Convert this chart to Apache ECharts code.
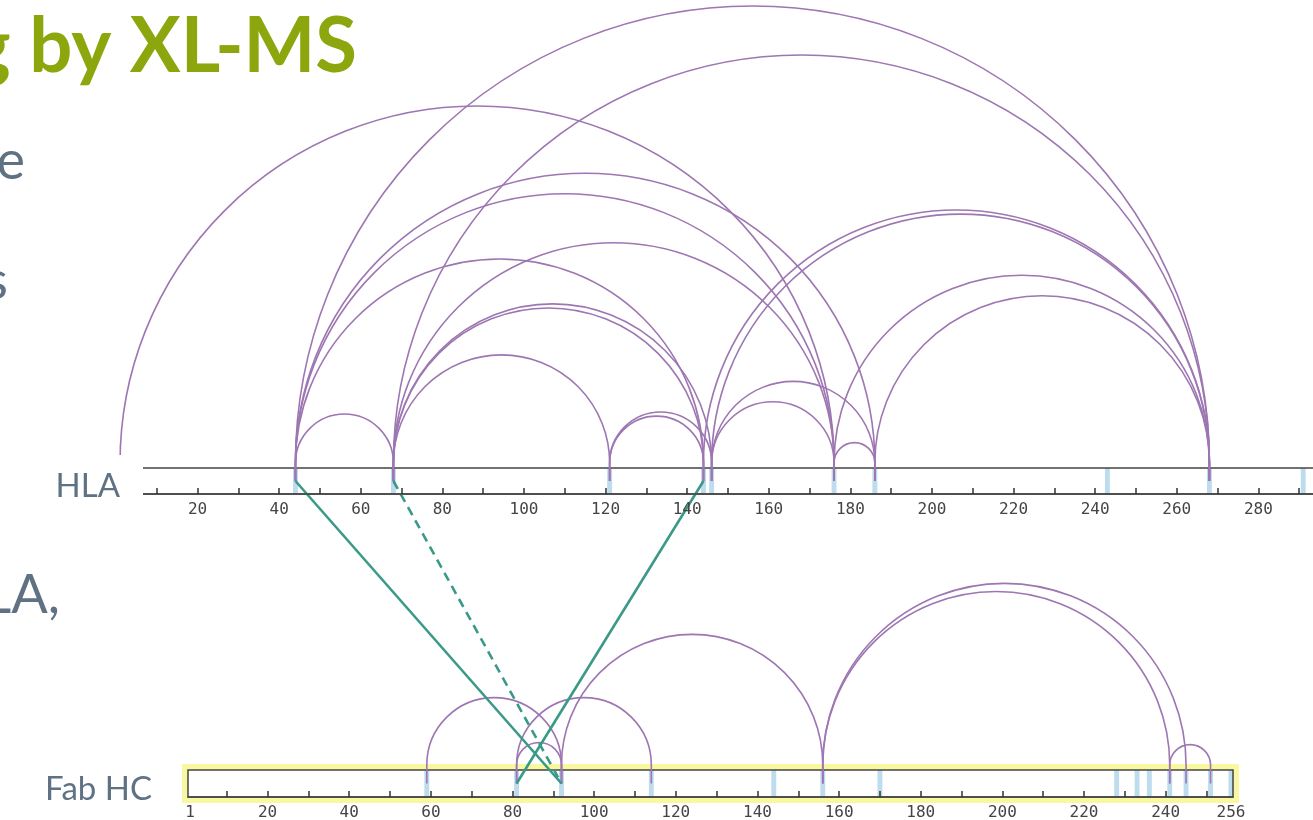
<!DOCTYPE html>
<html>
<head>
<meta charset="utf-8">
<script src="https://cdn.jsdelivr.net/npm/echarts@6/dist/echarts.min.js"></script>
<style>
html, body { margin: 0; padding: 0; background: #fff; }
#main { width: 1313px; height: 820px; }
</style>
</head>
<body>
<div id="main"></div>
<script>
// protein lengths (residues)
var hlaLength = 300;
var fabLength = 256;

// crosslinked residues (light blue marks)
var hlaSites = [44, 68, 121, 144, 146, 176, 186, 243, 268, 291];
var fabSites = [59, 81, 92, 114, 144, 156, 170, 228, 233, 236, 241, 245, 251, 256];

// intra-protein links [from, to]
var hlaLinks = [
  [1, 176], [44, 68], [44, 144], [44, 176], [44, 186], [44, 268],
  [68, 121], [68, 144], [68, 146], [68, 176], [68, 268],
  [121, 144], [121, 146], [146, 176], [146, 186], [144, 268], [146, 268],
  [176, 186], [176, 268], [186, 268]
];
var fabLinks = [[59, 92], [81, 92], [81, 114], [92, 156], [156, 241], [156, 245], [241, 251]];

// inter-protein links [HLA residue, Fab HC residue, dashed 0/1]
var interLinks = [[44, 92, 0], [68, 92, 1], [144, 81, 0]];

// axis ticks and labels
var hlaTicks = [10, 20, 30, 40, 50, 60, 70, 80, 90, 100, 110, 120, 130, 140, 150, 160, 170, 180, 190, 200, 210, 220, 230, 240, 250, 260, 270, 280, 290, 300];
var hlaLabels = [20, 40, 60, 80, 100, 120, 140, 160, 180, 200, 220, 240, 260, 280, 300];
var fabTicks = [10, 20, 30, 40, 50, 60, 70, 80, 90, 100, 110, 120, 130, 140, 150, 160, 170, 180, 190, 200, 210, 220, 230, 240, 250];
var fabLabels = [1, 20, 40, 60, 80, 100, 120, 140, 160, 180, 200, 220, 240, 256];

var arcColor = '#9d76b2';
var linkColor = '#3a9987';
var siteColor = '#bddcee';
var barColor = '#444';

var chart = echarts.init(document.getElementById('main'));

function axisX(grid, len, ticks, labels) {
  return {
    type: 'value',
    gridIndex: grid,
    min: 0.5,
    max: len + 0.5,
    z: 10,
    splitLine: { show: false },
    axisLine: { show: true, onZero: false, lineStyle: { color: barColor, width: 1.5 } },
    axisTick: { show: true, inside: true, length: 6, customValues: ticks, lineStyle: { color: '#333', width: 1.5 } },
    axisLabel: {
      customValues: labels,
      margin: 8,
      color: '#444',
      fontFamily: 'DejaVu Sans Mono',
      fontSize: 16
    }
  };
}

function axisY(grid) {
  return { type: 'value', gridIndex: grid, min: 0, max: 1, show: false };
}

function renderBar(params, api) {
  var p0 = api.coord([api.value(0), 1]);
  var p1 = api.coord([api.value(1), 0]);
  var w = p1[0] - p0[0], h = p1[1] - p0[1];
  var kids = [];
  if (api.value(2)) {
    kids.push({ type: 'rect', shape: { x: p0[0] - 6, y: p0[1] - 6, width: w + 12, height: h + 12 }, style: { fill: '#f9f7a0' } });
    kids.push({ type: 'rect', shape: { x: p0[0], y: p0[1], width: w, height: h }, style: { fill: '#fff' } });
  }
  return { type: 'group', children: kids };
}

function renderOutline(params, api) {
  var p0 = api.coord([api.value(0), 1]);
  var p1 = api.coord([api.value(1), 0]);
  return {
    type: 'rect',
    shape: { x: p0[0], y: p0[1], width: p1[0] - p0[0], height: p1[1] - p0[1] },
    style: { fill: 'none', stroke: barColor, lineWidth: 1.5 }
  };
}

function renderSite(params, api) {
  var p0 = api.coord([api.value(0) - 0.6, 1]);
  var p1 = api.coord([api.value(0) + 0.6, 0]);
  return {
    type: 'rect',
    shape: { x: p0[0], y: p0[1], width: p1[0] - p0[0], height: p1[1] - p0[1] },
    style: { fill: siteColor }
  };
}

function renderArc(params, api) {
  var a = api.coord([api.value(0), 0.5]);
  var b = api.coord([api.value(1), 0.5]);
  var top = api.coord([api.value(0), 1])[1];
  var cy = top - 5;
  var r = (b[0] - a[0]) / 2;
  var d = 'M' + a[0] + ' ' + a[1] + ' L' + a[0] + ' ' + cy +
    ' A' + r + ' ' + r + ' 0 0 1 ' + b[0] + ' ' + cy + ' L' + b[0] + ' ' + b[1];
  return {
    type: 'path',
    shape: { pathData: d },
    style: { fill: 'none', stroke: arcColor, lineWidth: 1.6 }
  };
}

function renderCross(params, api) {
  var a = api.coord([api.value(0), 0.5]);
  var b = chart.convertToPixel({ gridIndex: 1 }, [api.value(1), 0.5]);
  return {
    type: 'line',
    shape: { x1: a[0], y1: a[1], x2: b[0], y2: b[1] },
    style: { stroke: linkColor, lineWidth: 2.6, lineDash: api.value(2) ? [9, 6] : null }
  };
}

function seriesOf(grid, name, render, data, z) {
  return {
    type: 'custom', name: name, xAxisIndex: grid, yAxisIndex: grid,
    renderItem: render, data: data, z: z, silent: true, animation: false
  };
}

var bodyFont = 'Lato';
var bodyColor = '#5f7284';

var option = {
  backgroundColor: '#fff',
  animation: false,
  grid: [
    { left: 118, width: 1224, top: 468, height: 26, outerBoundsMode: 'none', containLabel: false },
    { left: 188, width: 1045, top: 770, height: 27, outerBoundsMode: 'none', containLabel: false }
  ],
  xAxis: [axisX(0, hlaLength, hlaTicks, hlaLabels), axisX(1, fabLength, fabTicks, fabLabels)],
  yAxis: [axisY(0), axisY(1)],
  series: [
    seriesOf(0, 'HLA bar', renderBar, [[0.5, hlaLength + 0.5, 0]], 1),
    seriesOf(1, 'Fab bar', renderBar, [[0.5, fabLength + 0.5, 1]], 1),
    seriesOf(0, 'HLA sites', renderSite, hlaSites.map(function (s) { return [s]; }), 2),
    seriesOf(1, 'Fab sites', renderSite, fabSites.map(function (s) { return [s]; }), 2),
    seriesOf(0, 'HLA outline', renderOutline, [[0.5, hlaLength + 0.5]], 3),
    seriesOf(1, 'Fab outline', renderOutline, [[0.5, fabLength + 0.5]], 3),
    seriesOf(0, 'HLA links', renderArc, hlaLinks, 4),
    seriesOf(1, 'Fab links', renderArc, fabLinks, 4)
  ],
  graphic: [
    {
      type: 'text', x: 357, y: 47, z: 100,
      style: { text: 'g by XL-MS', font: 'bold 76px Lato', fill: '#8ca70e', align: 'right', verticalAlign: 'middle' }
    },
    { type: 'text', x: 25, y: 162, z: 100, style: { text: 'e', font: '54px ' + bodyFont, fill: bodyColor, align: 'right', verticalAlign: 'middle' } },
    { type: 'text', x: 8, y: 282, z: 100, style: { text: 's', font: '54px ' + bodyFont, fill: bodyColor, align: 'right', verticalAlign: 'middle' } },
    { type: 'text', x: 60, y: 596, z: 100, style: { text: 'LA,', font: '54px ' + bodyFont, fill: bodyColor, align: 'right', verticalAlign: 'middle' } },
    { type: 'rect', z: 100, shape: { x: 48, y: 455, width: 95, height: 60 }, style: { fill: '#fff' } },
    { type: 'text', x: 120, y: 486, z: 101, style: { text: 'HLA', font: '33px ' + bodyFont, fill: bodyColor, align: 'right', verticalAlign: 'middle' } },
    { type: 'text', x: 152, y: 789, z: 101, style: { text: 'Fab HC', font: '33px ' + bodyFont, fill: bodyColor, align: 'right', verticalAlign: 'middle' } }
  ]
};

chart.setOption(option);

// links between the two proteins, added once both grids are laid out
chart.setOption({
  series: [Object.assign({ id: 'inter' }, seriesOf(0, 'HLA - Fab HC', renderCross, interLinks, 5))]
});
</script>
</body>
</html>
